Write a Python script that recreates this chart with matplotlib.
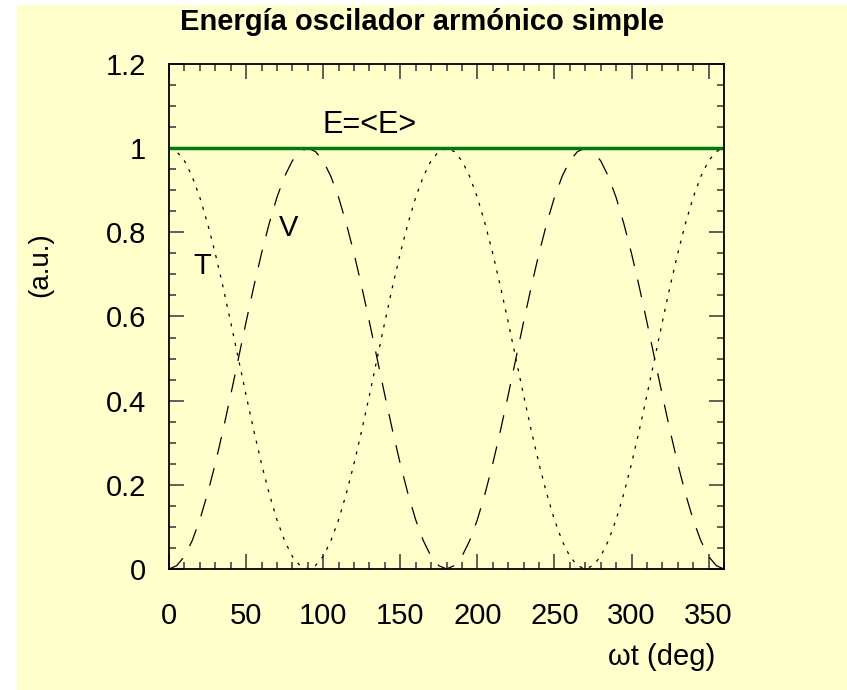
import numpy as np
import matplotlib
matplotlib.use("Agg")
import matplotlib.pyplot as plt
from matplotlib.patches import Rectangle
from matplotlib.ticker import MultipleLocator, FormatStrFormatter

plt.rcParams['font.family'] = ['Liberation Sans', 'DejaVu Sans']
plt.rcParams['lines.scale_dashes'] = False

# omega*t in degrees, sampled every 5 deg
wt = list(range(0, 365, 5))

# kinetic energy T
T = [1.000, 0.992, 0.970, 0.933, 0.883, 0.821, 0.750, 0.671, 0.587, 0.500,
     0.413, 0.329, 0.250, 0.179, 0.117, 0.067, 0.030, 0.008, 0.000,
     0.008, 0.030, 0.067, 0.117, 0.179, 0.250, 0.329, 0.413, 0.500,
     0.587, 0.671, 0.750, 0.821, 0.883, 0.933, 0.970, 0.992, 1.000,
     0.992, 0.970, 0.933, 0.883, 0.821, 0.750, 0.671, 0.587, 0.500,
     0.413, 0.329, 0.250, 0.179, 0.117, 0.067, 0.030, 0.008, 0.000,
     0.008, 0.030, 0.067, 0.117, 0.179, 0.250, 0.329, 0.413, 0.500,
     0.587, 0.671, 0.750, 0.821, 0.883, 0.933, 0.970, 0.992, 1.000]

# potential energy V
V = [0.000, 0.008, 0.030, 0.067, 0.117, 0.179, 0.250, 0.329, 0.413, 0.500,
     0.587, 0.671, 0.750, 0.821, 0.883, 0.933, 0.970, 0.992, 1.000,
     0.992, 0.970, 0.933, 0.883, 0.821, 0.750, 0.671, 0.587, 0.500,
     0.413, 0.329, 0.250, 0.179, 0.117, 0.067, 0.030, 0.008, 0.000,
     0.008, 0.030, 0.067, 0.117, 0.179, 0.250, 0.329, 0.413, 0.500,
     0.587, 0.671, 0.750, 0.821, 0.883, 0.933, 0.970, 0.992, 1.000,
     0.992, 0.970, 0.933, 0.883, 0.821, 0.750, 0.671, 0.587, 0.500,
     0.413, 0.329, 0.250, 0.179, 0.117, 0.067, 0.030, 0.008, 0.000]

# total energy, constant
E_x = [0, 360]
E = [1.0, 1.0]

bg = '#ffffcc'
fig = plt.figure(figsize=(8.47, 6.90), dpi=100, facecolor='white')
fig.patches.append(Rectangle((17/847, 0), 1, 1 - 5/690, transform=fig.transFigure,
                             facecolor=bg, edgecolor='none', zorder=-10))
ax = fig.add_axes([169/847, 1 - 569/690, 555/847, 505/690])
ax.set_facecolor(bg)

ax.plot(wt, T, color='black', lw=0.9, dashes=(2.2, 5.0))
ax.plot(wt, V, color='black', lw=0.9, dashes=(13, 10))
ax.plot(E_x, E, color='#007a10', lw=2.5, solid_capstyle='butt', clip_on=False)

ax.set_xlim(0, 360)
ax.set_ylim(0, 1.2)
ax.xaxis.set_major_locator(MultipleLocator(50))
ax.xaxis.set_minor_locator(MultipleLocator(10))
ax.yaxis.set_major_locator(MultipleLocator(0.2))
ax.yaxis.set_minor_locator(MultipleLocator(0.05))
ax.yaxis.set_major_formatter(FormatStrFormatter('%g'))

ax.tick_params(which='both', direction='in', top=True, right=True,
               color='#444444', width=1.2, labelsize=21)
ax.tick_params(which='major', length=10.5)
ax.tick_params(which='minor', length=5)
ax.tick_params(axis='x', pad=24)
ax.tick_params(axis='y', pad=16.5)
for s in ax.spines.values():
    s.set_linewidth(1.3)

ax.text(21.4, 0.72, 'T', fontsize=21, ha='center', va='center')
ax.text(77.8, 0.81, 'V', fontsize=21, ha='center', va='center')
ax.text(130, 1.055, 'E=<E>', fontsize=22, ha='center', va='center')

fig.text(422/847, 1 - 22/690, 'Energía oscilador armónico simple',
         fontsize=21, fontweight='bold', ha='center', va='center')
fig.text(715/847, 1 - 657/690, 'ωt (deg)', fontsize=21, ha='right', va='center')
fig.text(40/847, 1 - 265/690, '(a.u.)', fontsize=20, rotation=90,
         ha='center', va='center')

fig.savefig('out.png', dpi=100, facecolor=fig.get_facecolor())
